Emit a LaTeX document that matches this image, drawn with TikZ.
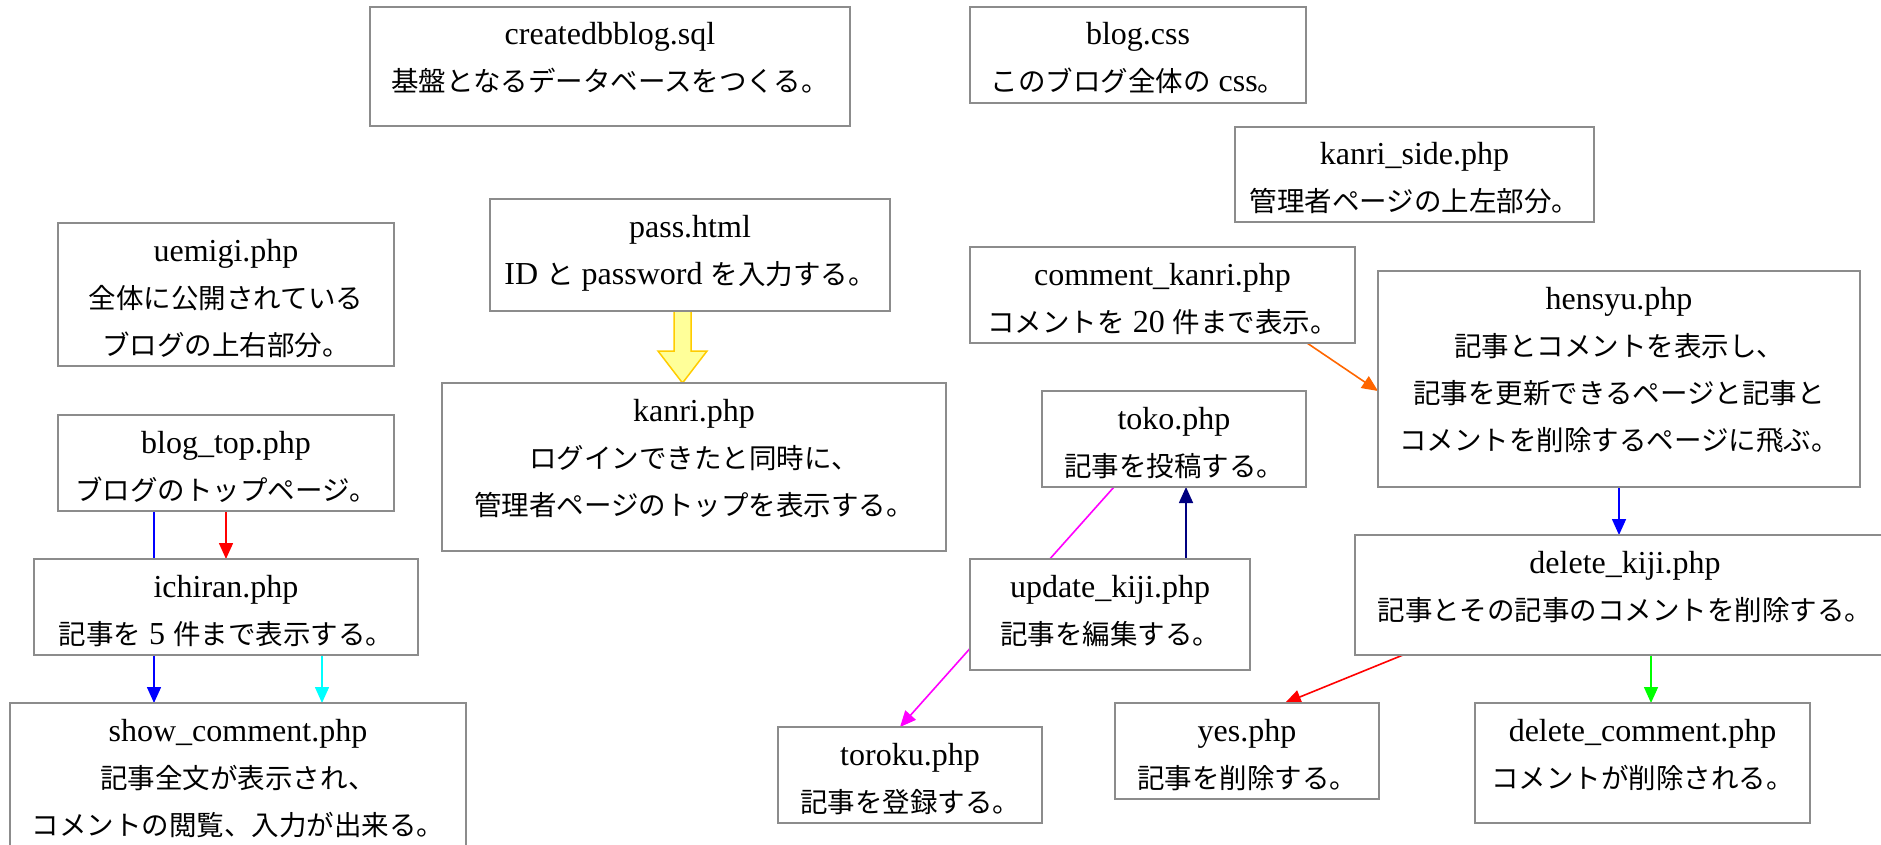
\documentclass[tikz,border=0pt]{standalone}
\usepackage{fontspec}
\setmainfont{Liberation Serif}
\newfontfamily\jpfont{Noto Sans CJK JP}
\usetikzlibrary{arrows.meta,calc}
\pgfdeclarelayer{background}
\pgfsetlayers{background,main}
\definecolor{boxgray}{HTML}{8C8C8C}
\definecolor{myorange}{HTML}{FF6600}
\definecolor{mynavy}{HTML}{000080}
\definecolor{myblue}{HTML}{0000FF}
\definecolor{myred}{HTML}{FF0000}
\definecolor{mycyan}{HTML}{00FFFF}
\definecolor{mymagenta}{HTML}{FF00FF}
\definecolor{mygreen}{HTML}{00FF00}
\definecolor{yfill}{HTML}{FFFF99}
\definecolor{yborder}{HTML}{FFCC00}
\newcommand\jp[1]{{\jpfont\fontsize{27.5}{47}\selectfont #1}}
\newcommand\bx[3]{\begin{minipage}[c][#2pt][t]{#1pt}\centering\fontsize{32}{47}\selectfont\rule{0pt}{38pt}#3\end{minipage}}
\begin{document}
\begin{tikzpicture}[x=1pt,y=-1pt,
  box/.style={draw=boxgray,line width=2pt,fill=white,inner sep=0pt,outer sep=0pt},
  conn/.style={line width=1.6pt,-{Triangle[length=16pt,width=14pt]}},
  plain/.style={line width=1.6pt}]
\useasboundingbox (0,0) rectangle (1881,845);
\clip (0,0) rectangle (1881,845);
\node[box] (cdb) at (610,66.5) {\bx{480}{119}{createdbblog.sql\\\jp{基盤となるデータベースをつくる。}}};
\node[box] (css) at (1138,55) {\bx{336}{96}{blog.css\\\jp{このブログ全体の} css\jp{。}}};
\node[box] (kside) at (1414.5,174.5) {\bx{359}{95}{kanri\_side.php\\\jp{管理者ページの上左部分。}}};
\node[box] (uemigi) at (226,294.5) {\bx{336}{143}{uemigi.php\\\jp{全体に公開されている}\\\jp{ブログの上右部分。}}};
\node[box] (pass) at (690,255) {\bx{400}{112}{pass.html\\ID \jp{と} password \jp{を入力する。}}};
\node[box] (ckanri) at (1162.5,295) {\bx{385}{96}{comment\_kanri.php\\\jp{コメントを} 20 \jp{件まで表示。}}};
\node[box] (hensyu) at (1619,379) {\bx{482}{216}{hensyu.php\\\jp{記事とコメントを表示し、}\\\jp{記事を更新できるページと記事と}\\\jp{コメントを削除するページに飛ぶ。}}};
\node[box] (kanri) at (694,467) {\bx{504}{168}{kanri.php\\\jp{ログインできたと同時に、}\\\jp{管理者ページのトップを表示する。}}};
\node[box] (toko) at (1174,439) {\bx{264}{96}{toko.php\\\jp{記事を投稿する。}}};
\node[box] (btop) at (226,463) {\bx{336}{96}{blog\_top.php\\\jp{ブログのトップページ。}}};
\node[box] (ichiran) at (226,607) {\bx{384}{96}{ichiran.php\\\jp{記事を} 5 \jp{件まで表示する。}}};
\node[box] (upd) at (1110,614.5) {\bx{280}{111}{update\_kiji.php\\\jp{記事を編集する。}}};
\node[box] (dkiji) at (1625,595) {\bx{540}{120}{delete\_kiji.php\\\jp{記事とその記事のコメントを削除する。}}};
\node[box] (show) at (238,774.5) {\bx{456}{143}{show\_comment.php\\\jp{記事全文が表示され、}\\\jp{コメントの閲覧、入力が出来る。}}};
\node[box] (toroku) at (910,775) {\bx{264}{96}{toroku.php\\\jp{記事を登録する。}}};
\node[box] (yes) at (1247,751) {\bx{264}{96}{yes.php\\\jp{記事を削除する。}}};
\node[box] (dcomm) at (1642.5,763) {\bx{335}{120}{delete\_comment.php\\\jp{コメントが削除される。}}};
\begin{pgfonlayer}{background}
\draw[plain,myblue] ([xshift=-72pt]btop.south) -- ([xshift=-72pt]btop.south |- ichiran.north);
\draw[conn,myred] (btop.south) -- (ichiran.north);
\draw[conn,myblue] ([xshift=-72pt]ichiran.south) -- ([xshift=-72pt]ichiran.south |- show.north);
\draw[conn,mycyan] ([xshift=96pt]ichiran.south) -- ([xshift=96pt]ichiran.south |- show.north);
\coordinate (yt) at ([xshift=-7.5pt]pass.south);
\coordinate (yb) at (yt |- kanri.north);
\draw[line width=1.5pt,draw=yborder,fill=yfill,line join=miter]
  ($(yt)+(-8.5,0)$) -- ($(yb)+(-8.5,-32)$) -- ($(yb)+(-24.5,-32)$) -- (yb)
  -- ($(yb)+(24.5,-32)$) -- ($(yb)+(8.5,-32)$) -- ($(yt)+(8.5,0)$) -- cycle;
\draw[conn,myorange] ([xshift=-48pt]ckanri.south east) -- ([yshift=-12pt]hensyu.west);
\draw[conn,mynavy] ([xshift=76pt]upd.north) -- ([xshift=76pt]upd.north |- toko.south);
\draw[conn,mymagenta] ([xshift=-60pt]toko.south) -- ([xshift=-10pt]toroku.north);
\draw[conn,myblue] (hensyu.south) -- (hensyu.south |- dkiji.north);
\draw[conn,myred] ([xshift=-222pt]dkiji.south) -- ([xshift=38pt]yes.north);
\draw[conn,mygreen] ([xshift=26pt]dkiji.south) -- ([xshift=26pt]dkiji.south |- dcomm.north);
\end{pgfonlayer}
\end{tikzpicture}
\end{document}
